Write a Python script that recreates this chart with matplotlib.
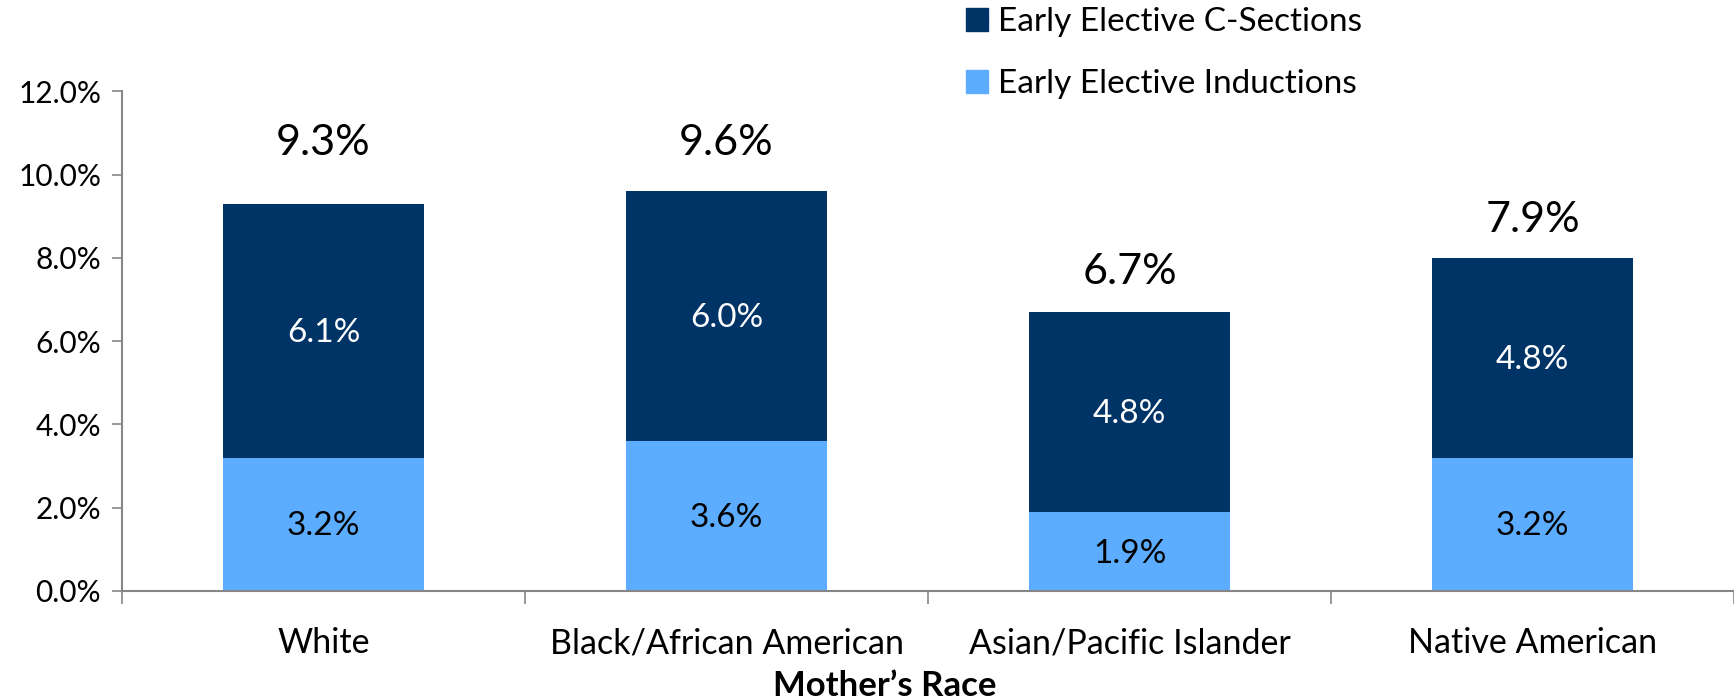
import numpy as np
import matplotlib.pyplot as plt
import matplotlib.patches as mpatches
from matplotlib.ticker import FuncFormatter, FixedLocator

# Data
races = ['White', 'Black/African American', 'Asian/Pacific Islander', 'Native American']
inductions = [3.2, 3.6, 1.9, 3.2]
csections = [6.1, 6.0, 4.8, 4.8]
totals = [9.3, 9.6, 6.7, 7.9]

dark = '#003366'
light = '#5CADFF'
axis_grey = '#868686'

plt.rcParams['font.family'] = ['Lato', 'DejaVu Sans']

fig = plt.figure(figsize=(17.34, 6.99), dpi=100)
ax = fig.add_axes([122 / 1734, 1 - 591 / 699, 1 - 122 / 1734, (591 - 91.3) / 699])

x = np.arange(len(races))
ax.bar(x, inductions, width=0.5, color=light)
ax.bar(x, csections, width=0.5, bottom=inductions, color=dark)

# segment labels
for i in range(len(races)):
    ax.text(x[i], inductions[i] / 2 - 0.05, '%.1f%%' % inductions[i], ha='center', va='center',
            fontsize=24, color='black')
    ax.text(x[i], inductions[i] + csections[i] / 2 - 0.05, '%.1f%%' % csections[i], ha='center',
            va='center', fontsize=24, color='white')

# total labels above the bars
label_offsets = [1.45, 1.17, 0.97, 0.91]
for i in range(len(races)):
    ax.text(x[i], inductions[i] + csections[i] + label_offsets[i], '%.1f%%' % totals[i],
            ha='center', va='center', fontsize=31, color='black')

ax.set_xlim(-0.5, len(races) - 0.5)
ax.set_ylim(0, 12)
ax.set_yticks(np.arange(0, 12.1, 2))
ax.yaxis.set_major_formatter(FuncFormatter(lambda v, p: '%.1f%%' % v))
ax.tick_params(axis='y', labelsize=21.5, length=7, width=1.2, color=axis_grey, pad=8)

ax.set_xticks(x)
ax.set_xticklabels(races)
ax.tick_params(axis='x', which='major', length=0, labelsize=24.5, pad=26)
ax.xaxis.set_minor_locator(FixedLocator(np.arange(-0.5, len(races), 1.0)))
ax.tick_params(axis='x', which='minor', length=9, width=1.2, color=axis_grey)

for side in ['top', 'right']:
    ax.spines[side].set_visible(False)
for side in ['left', 'bottom']:
    ax.spines[side].set_color(axis_grey)
    ax.spines[side].set_linewidth(1.5)

fig.text(885 / 1734, 1 - 686 / 699, 'Mother\u2019s Race', ha='center', va='center',
         fontsize=25, fontweight='bold')

cs_patch = mpatches.Patch(color=dark, label='Early Elective C-Sections')
ind_patch = mpatches.Patch(color=light, label='Early Elective Inductions')
fig.legend(handles=[cs_patch, ind_patch], loc='upper left', bbox_to_anchor=(946 / 1734, 1.018),
           frameon=False, fontsize=24, handlelength=0.67, handleheight=0.67,
           handletextpad=0.3, labelspacing=0.95, borderpad=0.1)

fig.savefig('out.png', dpi=100)
